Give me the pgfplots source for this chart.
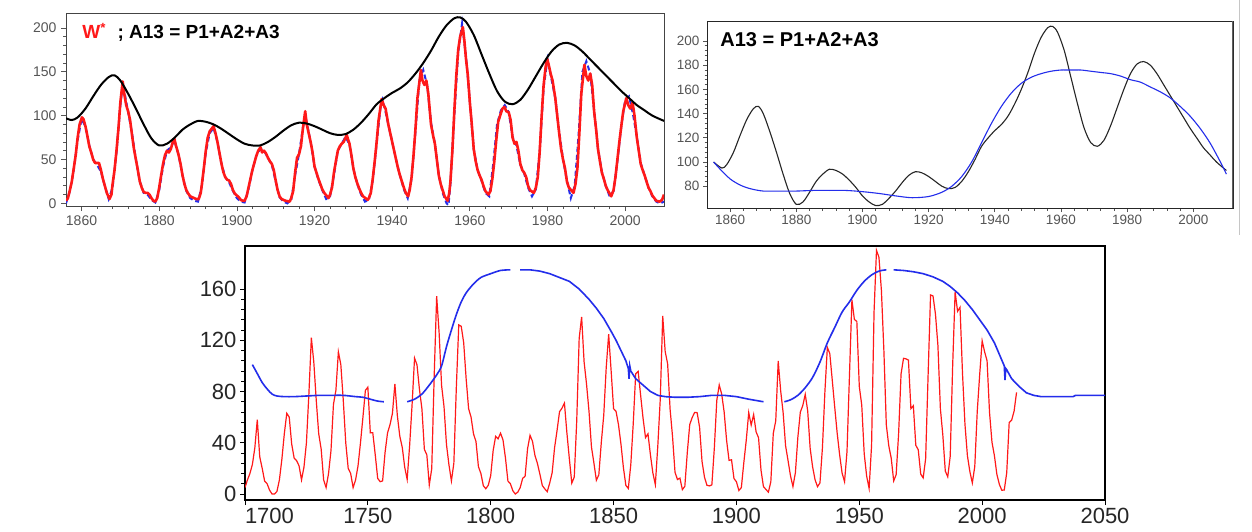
\documentclass[border=0pt]{standalone}
\usepackage{pgfplots}
\pgfplotsset{compat=1.18}
\usepackage{fontspec}
\setmainfont{Liberation Sans}
\definecolor{wred}{RGB}{255,25,25}
\definecolor{wblue}{RGB}{35,45,235}
\definecolor{tgray}{RGB}{85,85,85}
\begin{document}
\begin{tikzpicture}[x=1pt,y=1pt]
\useasboundingbox (0,0) rectangle (1252,531);
\fill[white] (0,0) rectangle (1252,531);
\draw[gray!45, line width=0.8pt] (1239,531) -- (1239,296);
% ---------------- Panel 1 ----------------
\begin{axis}[at={(66pt,325pt)}, anchor=south west, scale only axis,
  width=598pt, height=193pt,
  xmin=1856, xmax=2010, ymin=-3, ymax=217,
  xtick={1860,1880,...,2000}, ytick={0,50,...,200},
  minor x tick num=4, minor y tick num=4,
  tick align=outside, tick pos=left,
  major tick length=5pt, minor tick length=3pt,
  every tick/.style={tgray, line width=0.7pt},
  axis line style={tgray!80!black, line width=0.9pt},
  tick label style={font=\fontsize{14}{14}\selectfont, text=tgray},
  /pgf/number format/assume math mode=true,
  /pgf/number format/1000 sep={},
  xticklabel style={yshift=-1pt}, yticklabel style={xshift=-1pt},
  clip=true]
\addplot[wblue, line width=2pt, dashed, dash pattern=on 5pt off 3pt] coordinates {
(1856,0) (1857,14) (1858,38) (1859,72) (1860,96) (1861,88) (1862,66) (1863,50) (1864,44) (1865,36) (1866,20) (1867,5) (1868,18) (1869,58) (1870,112) (1870.6,135) (1871,128) (1872,104) (1873,80) (1874,50) (1875,25) (1876,12) (1877,10) (1878,4) (1879,1) (1880,15) (1881,42) (1882,60) (1883,64) (1883.9,72) (1885,55) (1886,32) (1887,14) (1888,6) (1889,3) (1890,2) (1891,20) (1892,58) (1893,80) (1894,86) (1895,70) (1896,46) (1897,30) (1898,24) (1899,14) (1900,6) (1901,2) (1902,1) (1903,16) (1904,38) (1905,54) (1906,62) (1907,60) (1908,52) (1909,44) (1910,25) (1911,7) (1912,2) (1913,0) (1914,4) (1915,32) (1916,56) (1917,86) (1917.6,100) (1918,92) (1919,70) (1920,42) (1921,27) (1922,15) (1923,5) (1924,8) (1925,32) (1926,60) (1927,68) (1928,76) (1929,67) (1930,40) (1931,22) (1932,10) (1933,2) (1934,4) (1935,26) (1936,68) (1937,110) (1937.5,118) (1938,110) (1939,90) (1940,70) (1941,50) (1942,32) (1943,16) (1944,6) (1945,28) (1946,82) (1947,140) (1948,152) (1949,135) (1950,92) (1951,68) (1952,32) (1953,12) (1954,0) (1954.5,-2) (1955,22) (1956,100) (1957,172) (1958,205) (1959,168) (1960,116) (1961,62) (1962,38) (1963,26) (1964,12) (1965,8) (1966,44) (1967,90) (1968,106) (1969,112) (1970,104) (1971,76) (1972,66) (1973,44) (1974,34) (1975,18) (1976,8) (1977,16) (1978,60) (1979,132) (1980,164) (1981,142) (1982,120) (1983,82) (1984,50) (1985,26) (1986,6) (1987,20) (1988,78) (1989,150) (1990,162) (1991,148) (1992,106) (1993,62) (1994,36) (1995,20) (1996,8) (1997,14) (1998,48) (1999,88) (2000,118) (2001,122) (2002,102) (2003,76) (2004,46) (2005,32) (2006,18) (2007,8) (2008,2) (2009,0) (2010,2)};
\addplot[wred, line width=2.6pt, line join=round] coordinates {
(1856.0,3) (1856.5,6) (1857.0,15) (1857.5,25) (1858.0,40) (1858.5,55) (1859.0,75) (1859.5,90) (1860.1,98) (1860.5,96) (1861.0,88) (1861.5,77) (1862.0,65) (1862.5,58) (1863.0,50) (1863.5,46) (1864.0,46) (1864.5,46) (1865.0,38) (1865.5,28) (1866.0,20) (1866.5,12) (1867.2,5) (1867.7,10) (1868.0,22) (1868.5,38) (1869.0,60) (1869.5,85) (1870.0,115) (1870.6,139) (1871.0,125) (1871.5,112) (1872.0,105) (1872.5,95) (1873.0,78) (1873.5,62) (1874.0,50) (1874.5,38) (1875.0,25) (1875.5,18) (1876.0,13) (1876.5,12) (1877.0,12) (1877.5,10) (1878.0,6) (1878.5,3) (1879.0,2) (1879.5,6) (1880.0,18) (1880.5,32) (1881.0,45) (1881.5,55) (1882.0,60) (1882.5,58) (1883.0,62) (1883.5,70) (1883.9,74) (1884.3,66) (1884.7,60) (1885.0,55) (1885.5,45) (1886.0,32) (1886.5,22) (1887.0,15) (1887.5,11) (1888.0,8) (1888.5,7) (1889.0,6) (1889.5,5) (1890.2,5) (1890.7,12) (1891.0,22) (1891.5,40) (1892.0,60) (1892.5,75) (1893.0,82) (1893.5,85) (1894.0,88) (1894.5,80) (1895.0,70) (1895.5,58) (1896.0,46) (1896.5,36) (1897.0,30) (1897.5,27) (1898.0,26) (1898.5,22) (1899.0,15) (1899.5,11) (1900.0,9) (1900.5,7) (1901.0,4) (1901.5,3) (1902.0,3) (1902.5,8) (1903.0,18) (1903.5,28) (1904.0,38) (1904.5,46) (1905.0,54) (1905.5,60) (1906.1,64) (1906.5,58) (1907.0,60) (1907.5,57) (1908.0,52) (1908.5,48) (1909.0,45) (1909.5,38) (1910.0,26) (1910.5,15) (1911.0,8) (1911.5,5) (1912.0,4) (1912.5,3) (1913.6,2) (1914.0,6) (1914.5,14) (1915.0,35) (1915.5,52) (1916.0,56) (1916.5,65) (1917.0,85) (1917.6,105) (1918.0,90) (1918.5,80) (1919.0,70) (1919.5,58) (1920.0,42) (1920.5,35) (1921.0,28) (1921.5,22) (1922.0,16) (1922.5,12) (1923.6,6) (1924.0,10) (1924.5,18) (1925.0,35) (1925.5,48) (1926.0,60) (1926.5,65) (1927.0,68) (1927.5,70) (1928.3,78) (1928.7,72) (1929.0,68) (1929.5,55) (1930.0,40) (1930.5,30) (1931.0,23) (1931.5,17) (1932.0,12) (1932.5,8) (1933.7,4) (1934.0,6) (1934.5,12) (1935.0,28) (1935.5,48) (1936.0,70) (1936.5,95) (1937.3,119) (1937.8,112) (1938.3,108) (1939.0,90) (1939.5,80) (1940.0,70) (1940.5,60) (1941.0,50) (1941.5,40) (1942.0,32) (1942.5,25) (1943.0,18) (1943.5,12) (1944.1,8) (1944.5,15) (1945.0,30) (1945.5,55) (1946.0,85) (1946.5,120) (1947.4,152) (1947.8,140) (1948.3,135) (1948.8,140) (1949.3,125) (1950.0,90) (1950.5,78) (1951.0,68) (1951.5,50) (1952.0,32) (1952.5,22) (1953.0,15) (1953.5,8) (1954.3,3) (1954.7,12) (1955.0,25) (1955.5,60) (1956.0,105) (1956.5,145) (1957.0,175) (1957.5,190) (1958.2,201) (1958.6,185) (1959.0,165) (1959.5,145) (1960.0,115) (1960.5,90) (1961.0,62) (1961.5,48) (1962.0,38) (1962.5,32) (1963.0,27) (1963.5,20) (1964.0,14) (1964.8,10) (1965.3,14) (1965.8,28) (1966.3,48) (1966.8,72) (1967.3,93) (1967.8,100) (1968.4,108) (1968.9,110) (1969.4,105) (1970.0,104) (1970.5,95) (1971.0,75) (1971.5,68) (1972.0,70) (1972.5,60) (1973.0,45) (1973.5,38) (1974.0,35) (1974.5,30) (1975.0,20) (1975.5,15) (1976.5,12) (1977.0,18) (1977.5,30) (1978.0,60) (1978.5,100) (1979.0,135) (1979.5,155) (1979.9,165) (1980.3,158) (1980.8,148) (1981.3,140) (1982.0,120) (1982.5,100) (1983.0,80) (1983.5,62) (1984.0,50) (1984.5,40) (1985.0,25) (1985.5,18) (1986.7,12) (1987.2,22) (1987.7,40) (1988.2,80) (1988.7,125) (1989.5,158) (1990.0,145) (1990.5,140) (1991.0,148) (1991.5,135) (1992.0,105) (1992.5,85) (1993.0,62) (1993.5,48) (1994.0,35) (1994.5,28) (1995.0,20) (1995.5,15) (1996.4,8) (1997.0,15) (1997.5,30) (1998.0,50) (1998.5,70) (1999.0,88) (1999.5,105) (2000.3,120) (2000.8,112) (2001.3,108) (2001.9,115) (2002.4,100) (2003.0,75) (2003.5,60) (2004.0,45) (2004.5,38) (2005.0,32) (2005.5,25) (2006.0,18) (2006.5,14) (2007.0,9) (2007.5,6) (2008.0,3) (2008.9,2) (2009.5,4) (2010.0,10)};
\addplot[black, line width=2pt, smooth, tension=0.5] coordinates {
(1856,97) (1857.5,95) (1859,98) (1861,108) (1863,122) (1865,135) (1867,144) (1868.5,146) (1870,140) (1872,125) (1874,108) (1876,90) (1878,74) (1880,66) (1882,68) (1884,75) (1886,84) (1888,90) (1890,94) (1892,93) (1894,90) (1896,85) (1898,79) (1900,73) (1902,68) (1904,66) (1906,66) (1908,70) (1910,76) (1912,83) (1914,89) (1916,92) (1918,91) (1920,88) (1922,84) (1924,80) (1926,78) (1928,79) (1930,84) (1932,92) (1934,102) (1936,113) (1938,120) (1940,126) (1942,131) (1944,138) (1946,148) (1948,160) (1950,174) (1952,190) (1954,203) (1956,211) (1957.5,212) (1959,207) (1961,192) (1963,170) (1965,148) (1967,128) (1969,116) (1971,113) (1973,118) (1975,130) (1977,145) (1979,160) (1981,173) (1983,181) (1985,183) (1987,180) (1989,173) (1991,164) (1993,155) (1995,146) (1997,137) (1999,128) (2001,120) (2003,112) (2005,106) (2007,100) (2010,94)};
\node[anchor=west, inner sep=0pt, font=\fontsize{19}{19}\selectfont\bfseries] at (rel axis cs:0.027,0.9) {\textcolor{wred}{W\textsuperscript{*}}\,\, ; A13 = P1+A2+A3};
\end{axis}
% ---------------- Panel 2 ----------------
\begin{axis}[at={(707pt,323pt)}, anchor=south west, scale only axis,
  width=526pt, height=187pt,
  xmin=1853, xmax=2012, ymin=62, ymax=216.5,
  xtick={1860,1880,...,2000}, ytick={80,100,...,200},
  minor x tick num=4, minor y tick num=4,
  tick align=outside, tick pos=left,
  major tick length=4pt, minor tick length=2.5pt,
  every tick/.style={tgray, line width=0.7pt},
  axis line style={black!85, line width=0.9pt},
  tick label style={font=\fontsize{13.5}{13.5}\selectfont, text=tgray},
  /pgf/number format/assume math mode=true,
  /pgf/number format/1000 sep={},
  clip=true]
\addplot[black!85, line width=1.1pt, smooth, tension=0.5] coordinates {
(1855,100) (1857.5,95) (1859,98) (1861,108) (1863,122) (1865,135) (1867,144) (1868.5,146) (1870,140) (1872,125) (1874,108) (1876,90) (1878,74) (1880,65) (1882,67) (1884,75) (1886,84) (1888,90) (1890,94) (1892,93) (1894,90) (1896,85) (1898,79) (1900,72) (1902,67) (1904,64) (1906,65) (1908,70) (1910,76) (1912,83) (1914,89) (1916,92) (1918,91) (1920,88) (1922,84) (1924,80) (1926,78) (1928,79) (1930,84) (1932,92) (1934,102) (1936,113) (1938,120) (1940,126) (1942,131) (1944,138) (1946,148) (1948,160) (1950,174) (1952,190) (1954,203) (1956,211) (1957.5,212) (1959,207) (1961,192) (1963,170) (1965,148) (1967,128) (1969,116) (1971,113) (1973,118) (1975,130) (1977,145) (1979,160) (1981,173) (1983,181) (1985,183) (1987,180) (1989,173) (1991,164) (1993,155) (1995,146) (1997,137) (1999,128) (2001,120) (2003,112) (2005,106) (2007,100) (2010,93)};
\addplot[wblue, line width=1.1pt, smooth] coordinates {
(1855,100) (1857,94) (1860,86) (1863,81) (1866,78) (1870,76) (1875,76) (1880,76) (1885,76.5) (1890,76.5) (1895,76.5) (1900,75.5) (1905,74) (1910,72) (1915,70.5) (1920,71.5) (1924,75) (1927,80) (1930,88) (1933,100) (1936,116) (1939,132) (1942,146) (1945,157) (1948,165) (1951,170) (1954,173) (1957,175) (1960,176) (1963,176) (1966,176) (1969,175) (1972,174) (1975,173) (1978,171) (1981,168) (1984,166) (1987,162) (1990,158) (1993,153) (1996,146) (1999,138) (2002,128) (2005,116) (2008,101) (2010,90)};
\draw[gray!75!black, line width=2.5pt] (rel axis cs:1,0) -- (rel axis cs:1,1);
\node[anchor=west, inner sep=0pt, font=\fontsize{20}{20}\selectfont\bfseries] at (rel axis cs:0.025,0.9) {A13 = P1+A2+A3};
\end{axis}
% ---------------- Panel 3 ----------------
\begin{axis}[at={(245pt,31pt)}, anchor=south west, scale only axis,
  width=860pt, height=254pt,
  xmin=1700, xmax=2050, ymin=-4.7, ymax=193.6,
  xtick={1700,1750,...,2050},
  xticklabels={\makebox[0pt][l]{1700},1750,1800,1850,1900,1950,2000,2050},
  ytick={0,40,...,160}, minor y tick num=4,
  tick align=outside, tick pos=left,
  major tick length=5pt, minor tick length=4pt,
  every tick/.style={black, line width=0.8pt},
  axis line style={black, line width=1.2pt},
  tick label style={font=\fontsize{22}{22}\selectfont, text=black!85},
  /pgf/number format/assume math mode=true,
  /pgf/number format/1000 sep={},
  clip=true]
\addplot[wred, line width=1.2pt] coordinates {
(1700,5) (1701,11) (1702,16) (1703,23) (1704,36) (1705,58) (1706,29) (1707,20) (1708,10) (1709,8) (1710,3) (1711,0) (1712,0) (1713,2) (1714,11) (1715,27) (1716,47) (1717,63) (1718,60) (1719,39) (1720,28) (1721,26) (1722,22) (1723,11) (1724,21) (1725,40) (1726,78) (1727,122) (1728,103) (1729,73) (1730,47) (1731,35) (1732,11) (1733,5) (1734,16) (1735,34) (1736,70) (1737,81) (1738,111) (1739,101) (1740,73) (1741,40) (1742,20) (1743,16) (1744,5) (1745,11) (1746,22) (1747,40) (1748,60) (1749,80.9) (1750,83.4) (1751,47.7) (1752,47.8) (1753,30.7) (1754,12.2) (1755,9.6) (1756,10.2) (1757,32.4) (1758,47.6) (1759,54) (1760,62.9) (1761,85.9) (1762,61.2) (1763,45.1) (1764,36.4) (1765,20.9) (1766,11.4) (1767,37.8) (1768,69.8) (1769,106.1) (1770,100.8) (1771,81.6) (1772,66.5) (1773,34.8) (1774,30.6) (1775,7) (1776,19.8) (1777,92.5) (1778,154.4) (1779,125.9) (1780,84.8) (1781,68.1) (1782,38.5) (1783,22.8) (1784,10.2) (1785,24.1) (1786,82.9) (1787,132) (1788,130.9) (1789,118.1) (1790,89.9) (1791,66.6) (1792,60) (1793,46.9) (1794,41) (1795,21.3) (1796,16) (1797,6.4) (1798,4.1) (1799,6.8) (1800,14.5) (1801,34) (1802,45) (1803,43.1) (1804,47.5) (1805,42.2) (1806,28.1) (1807,10.1) (1808,8.1) (1809,2.5) (1810,0) (1811,1.4) (1812,5) (1813,12.2) (1814,13.9) (1815,35.4) (1816,45.8) (1817,41.1) (1818,30.1) (1819,23.9) (1820,15.6) (1821,6.6) (1822,4) (1823,1.8) (1824,8.5) (1825,16.6) (1826,36.3) (1827,49.6) (1828,64.2) (1829,67) (1830,70.9) (1831,47.8) (1832,27.5) (1833,8.5) (1834,13.2) (1835,56.9) (1836,121.5) (1837,138.3) (1838,103.2) (1839,85.7) (1840,64.6) (1841,36.7) (1842,24.2) (1843,10.7) (1844,15) (1845,40.1) (1846,61.5) (1847,98.5) (1848,124.7) (1849,96.3) (1850,66.6) (1851,64.5) (1852,54.1) (1853,39) (1854,20.6) (1855,6.7) (1856,4.3) (1857,22.7) (1858,54.8) (1859,93.8) (1860,95.8) (1861,77.2) (1862,59.1) (1863,44) (1864,47) (1865,30.5) (1866,16.3) (1867,7.3) (1868,37.6) (1869,74) (1870,139) (1871,111.2) (1872,101.6) (1873,66.2) (1874,44.7) (1875,17) (1876,11.3) (1877,12.4) (1878,3.4) (1879,6) (1880,32.3) (1881,54.3) (1882,59.7) (1883,63.7) (1884,63.5) (1885,52.2) (1886,25.4) (1887,13.1) (1888,6.8) (1889,6.3) (1890,7.1) (1891,35.6) (1892,73) (1893,85.1) (1894,78) (1895,64) (1896,41.8) (1897,26.2) (1898,26.7) (1899,12.1) (1900,9.5) (1901,2.7) (1902,5) (1903,24.4) (1904,42) (1905,63.5) (1906,53.8) (1907,62) (1908,48.5) (1909,43.9) (1910,18.6) (1911,5.7) (1912,3.6) (1913,1.4) (1914,9.6) (1915,47.4) (1916,57.1) (1917,103.9) (1918,80.6) (1919,63.6) (1920,37.6) (1921,26.1) (1922,14.2) (1923,5.8) (1924,16.7) (1925,44.3) (1926,63.9) (1927,69) (1928,77.8) (1929,64.9) (1930,35.7) (1931,21.2) (1932,11.1) (1933,5.7) (1934,8.7) (1935,36.1) (1936,79.7) (1937,114.4) (1938,109.6) (1939,88.8) (1940,67.8) (1941,47.5) (1942,30.6) (1943,16.3) (1944,9.6) (1945,33.2) (1946,92.6) (1947,151.6) (1948,136.3) (1949,134.7) (1950,83.9) (1951,69.4) (1952,31.5) (1953,13.9) (1954,4.4) (1955,38) (1956,141.7) (1957,190.2) (1958,184.8) (1959,159) (1960,112.3) (1961,53.9) (1962,37.6) (1963,27.9) (1964,10.2) (1965,15.1) (1966,47) (1967,93.8) (1968,105.9) (1969,105.5) (1970,104.5) (1971,66.6) (1972,68.9) (1973,38) (1974,34.5) (1975,15.5) (1976,12.6) (1977,27.5) (1978,92.5) (1979,155.4) (1980,154.6) (1981,140.4) (1982,115.9) (1983,66.6) (1984,45.9) (1985,17.9) (1986,13.4) (1987,29.4) (1988,100.2) (1989,157.6) (1990,142.6) (1991,145.7) (1992,94.3) (1993,54.6) (1994,29.9) (1995,17.5) (1996,8.6) (1997,21.5) (1998,64.3) (1999,93.3) (2000,119.6) (2001,111) (2002,104) (2003,63.7) (2004,40.4) (2005,29.8) (2006,15.2) (2007,7.5) (2008,2.9) (2009,3.1) (2010,16.5) (2011,55.7) (2012,57.6) (2013,64.7) (2014,79.3)};
\addplot[wblue, line width=1.6pt, smooth] coordinates {
(1703,101) (1705,94) (1707,87) (1709,82) (1711,78) (1713,76.5) (1716,76) (1720,76) (1725,76.5) (1730,77) (1735,77) (1740,77) (1745,76) (1748,75.5) (1751,74) (1754,72.5) (1756.5,72)};
\addplot[wblue, line width=1.6pt, smooth] coordinates {
(1766,72) (1769,74) (1772,78) (1775,85) (1778,93) (1780,100) (1782,115) (1784,128) (1786,140) (1788,150) (1790,157) (1793,164) (1796,169) (1800,172) (1804,174.5) (1808,175)};
\addplot[wblue, line width=1.6pt] coordinates {
(1812,175) (1816,175) (1820,174) (1824,172) (1828,169) (1832,166) (1836,160) (1840,152) (1843,145) (1846,137) (1849,127) (1851,120) (1853,112) (1855,104) (1856,98) (1856.3,90) (1856.6,100) (1857,96) (1859,90) (1862,85) (1865,80) (1868,77) (1871,76) (1875,75.5) (1880,75.5) (1885,76) (1890,77) (1895,77) (1900,76) (1905,74) (1908,73) (1911,72)};
\addplot[wblue, line width=1.6pt, smooth] coordinates {
(1919.5,72) (1922,73.5) (1925,77) (1928,83) (1931,91) (1934,103) (1937,118) (1940,130) (1943,142) (1946,150) (1949,159) (1952,166) (1955,171) (1958,174) (1961,175)};
\addplot[wblue, line width=1.6pt] coordinates {
(1964,175) (1968,174.5) (1972,173.5) (1976,172) (1980,169.5) (1984,166) (1987,162) (1990,157) (1993,151) (1996,144) (1999,136) (2002,128) (2005,118) (2007,109) (2009,100) (2009.3,89) (2009.6,98) (2010,97) (2012,90) (2015,84) (2018,79) (2021,77) (2024,76) (2037,76) (2038,77) (2050,77)};
\end{axis}
\end{tikzpicture}
\end{document}
